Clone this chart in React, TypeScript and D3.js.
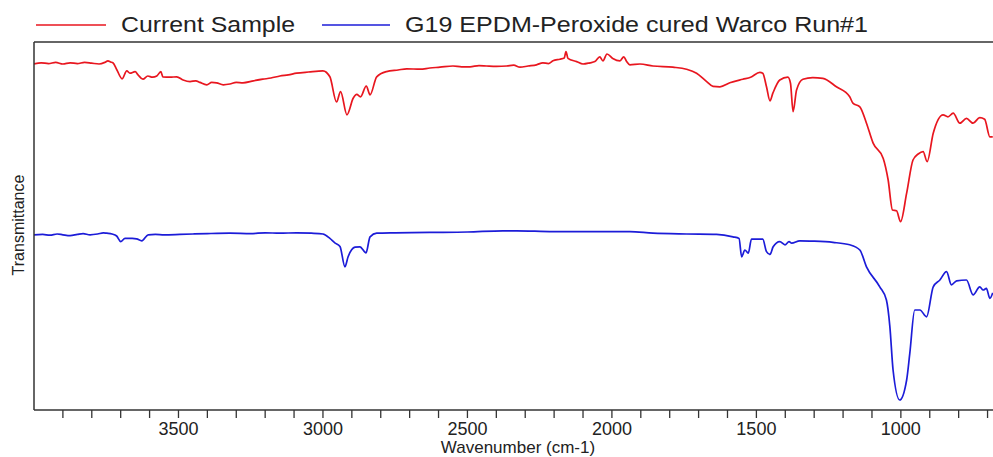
import React from "react";
import * as d3 from "d3";

const seriesNames = ["Current Sample", "G19 EPDM-Peroxide cured Warco Run#1"];
const seriesColors = ["#e8161f", "#1c1cd8"];

// [wavenumber (cm-1), transmittance (arbitrary units)]
const currentSample: [number, number][] = [
  [4000,86.5],[3975,86.8],[3950,86.6],[3925,86.9],[3900,86.5],[3875,86.8],[3850,86.6],[3825,86.9],[3800,86.7],[3775,86.5],[3755,86.9],[3744,87.3],[3735,87.0],[3727,86.8],[3713,85.0],[3695,82.8],[3679,84.8],[3668,84.2],[3650,84.6],[3640,83.8],[3623,82.7],[3606,83.5],[3590,83.2],[3575,83.5],[3561,84.6],[3554,83.3],[3529,83.2],[3506,83.3],[3484,82.5],[3460,82.1],[3440,82.3],[3426,81.9],[3402,81.3],[3385,81.9],[3368,81.8],[3345,81.3],[3322,81.5],[3300,81.9],[3277,81.8],[3240,82.3],[3208,82.7],[3180,83.0],[3149,83.5],[3120,83.8],[3091,84.2],[3050,84.5],[3000,84.8],[2976,83.3],[2953,77],[2939,79.6],[2917,73.8],[2895,78],[2883,78.9],[2870,78.3],[2850,81],[2837,78.8],[2814,83.3],[2780,84.6],[2740,85.0],[2710,85.3],[2664,85.2],[2630,85.5],[2595,85.7],[2550,86.0],[2520,85.8],[2491,85.8],[2460,86.1],[2434,86.0],[2400,85.9],[2364,86.0],[2340,86.2],[2318,85.7],[2290,86.0],[2261,86.3],[2239,86.8],[2220,86.6],[2204,87.3],[2180,87.7],[2165,88.0],[2159,89.6],[2152,87.9],[2122,87.1],[2100,86.5],[2076,86.8],[2059,87.1],[2042,88.3],[2031,87.3],[2017,89.0],[1997,87.9],[1972,87.3],[1959,88.3],[1949,87.1],[1938,86.3],[1903,86.5],[1858,86.0],[1789,85.7],[1742,85.2],[1707,84.2],[1672,82.1],[1650,80.9],[1626,80.8],[1592,81.8],[1547,82.7],[1520,83.2],[1488,84.4],[1478,84.2],[1465,80.8],[1453,77.3],[1443,79.2],[1419,82.5],[1391,83.2],[1382,81.7],[1373,74.6],[1361,80],[1339,82.7],[1305,83.1],[1270,82.9],[1223,80.8],[1177,78.3],[1166,76.7],[1142,75.8],[1119,71.7],[1096,66.7],[1061,62.9],[1044,57.5],[1029,50],[1015,49.8],[1001,47.1],[980,54.2],[958,62.5],[940,64],[923,64.6],[909,62.1],[888,69.2],[854,73.8],[837,73.3],[819,74.2],[796,71.7],[773,72.9],[750,71.7],[727,73.1],[710,72.7],[692,68.3],[682,68.3]
];

const referenceRun: [number, number][] = [
  [4000,43.8],[3970,43.9],[3945,43.7],[3920,44.0],[3900,43.8],[3875,43.6],[3850,43.9],[3830,44.1],[3806,43.8],[3780,44.0],[3760,44.3],[3748,44.2],[3730,44.0],[3714,43.5],[3700,42.1],[3685,42.9],[3660,42.9],[3645,42.8],[3627,42.3],[3605,43.8],[3580,43.9],[3550,43.8],[3495,43.9],[3450,44.0],[3400,44.1],[3322,44.2],[3250,44.1],[3200,44.3],[3150,44.2],[3091,44.3],[3040,44.2],[3000,44.0],[2976,42.9],[2959,41.8],[2941,40.9],[2924,35.8],[2913,38.3],[2889,40.7],[2872,40.8],[2851,39.3],[2837,43.3],[2814,44.2],[2750,44.3],[2630,44.4],[2500,44.5],[2377,44.8],[2330,44.8],[2204,44.6],[2050,44.6],[1938,44.6],[1858,44.2],[1742,44.0],[1638,43.9],[1581,43.3],[1560,42.9],[1551,38.3],[1540,40.0],[1528,39.2],[1517,42.7],[1478,42.7],[1465,39.6],[1453,38.9],[1442,40.8],[1419,42.1],[1401,41.3],[1387,42.1],[1378,41.7],[1350,42.3],[1300,42.2],[1235,41.9],[1177,41.3],[1142,40.0],[1119,35.8],[1073,30.8],[1050,27.5],[1038,20.8],[1027,10.0],[1004,2.5],[980,7.5],[969,14.2],[952,25.0],[934,25.0],[911,23.3],[888,30.8],[865,32.5],[842,34.6],[825,31.3],[807,32.3],[773,32.5],[750,28.8],[727,30.8],[715,30.0],[704,30.4],[692,27.9],[682,29.3]
];

const xDomain: [number, number] = [4000, 650];
const yDomain: [number, number] = [0, 92];
const majorTicks = [3500, 3000, 2500, 2000, 1500, 1000];
const minorTicks = d3.range(3900, 650, -100);

const W = 993;
const H = 457;
const left = 34;
const right = 1002;
const top = 42;
const bottom = 410;
const font = "'Liberation Sans', Arial, Helvetica, sans-serif";

export default function App() {
  const x = d3.scaleLinear().domain(xDomain).range([left, right]);
  const y = d3.scaleLinear().domain(yDomain).range([bottom, top]);
  const line = d3
    .line<[number, number]>()
    .x((d) => x(d[0]))
    .y((d) => y(d[1]))
    .curve(d3.curveMonotoneX);
  const series = [currentSample, referenceRun];
  const axisColor = "#333";

  return (
    <div style={{ position: "fixed", left: 0, top: 0 }}>
      <svg width={W} height={H} style={{ display: "block", background: "#fff" }}>
        <defs>
          <clipPath id="plotClip">
            <rect x={left} y={top} width={right - left} height={bottom - top} />
          </clipPath>
        </defs>
        {/* legend */}
        <g fontFamily={font} fill="#222">
          <line x1={36} x2={106} y1={25} y2={25} stroke={seriesColors[0]} strokeWidth={1.5} />
          <text x={121} y={32} fontSize={22} textLength={174} lengthAdjust="spacingAndGlyphs">
            {seriesNames[0]}
          </text>
          <line x1={322} x2={390} y1={25} y2={25} stroke={seriesColors[1]} strokeWidth={1.5} />
          <text x={405} y={32} fontSize={22} textLength={463} lengthAdjust="spacingAndGlyphs">
            {seriesNames[1]}
          </text>
        </g>
        {/* series */}
        <g clipPath="url(#plotClip)">
          {series.map((s, i) => (
            <path
              key={i}
              d={line(s) || ""}
              fill="none"
              stroke={seriesColors[i]}
              strokeWidth={1.7}
              strokeLinejoin="round"
            />
          ))}
        </g>
        {/* frame */}
        <line x1={left} x2={right} y1={top} y2={top} stroke={axisColor} strokeWidth={1.5} />
        <line x1={left} x2={left} y1={top} y2={bottom} stroke={axisColor} strokeWidth={1.5} />
        <line x1={left} x2={right} y1={bottom} y2={bottom} stroke={axisColor} strokeWidth={1.5} />
        {/* ticks */}
        {minorTicks.map((t) => (
          <line
            key={t}
            x1={x(t)}
            x2={x(t)}
            y1={bottom}
            y2={bottom + 8}
            stroke={axisColor}
            strokeWidth={1.3}
          />
        ))}
        <g fontFamily={font} fill="#222" fontSize={18} textAnchor="middle">
          {majorTicks.map((t) => (
            <text key={t} x={x(t)} y={435}>
              {t}
            </text>
          ))}
          <text x={(left + right) / 2} y={453} fontSize={17}>
            Wavenumber (cm-1)
          </text>
          <text transform={`translate(24,225) rotate(-90)`} fontSize={16}>
            Transmittance
          </text>
        </g>
      </svg>
    </div>
  );
}
